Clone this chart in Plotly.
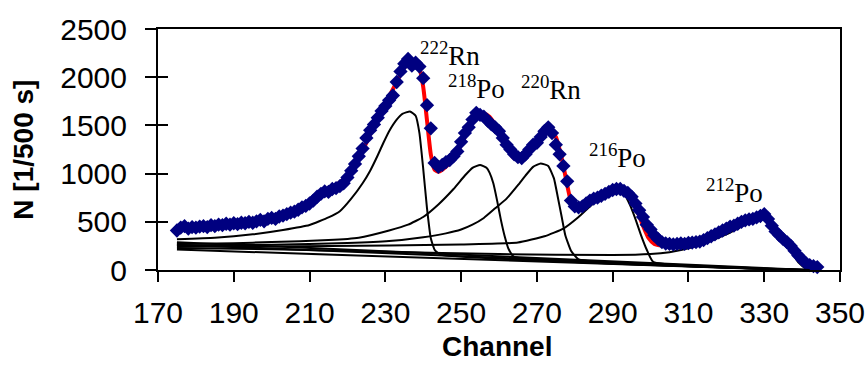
import plotly.graph_objects as go

# ---------------- data ----------------
channels = list(range(175, 345))
counts = [
    410, 440, 455, 430, 445, 440, 450, 455, 445, 465,   # 175-184
    455, 470, 465, 480, 470, 485, 475, 490, 485, 500,   # 185-194
    490, 505, 520, 505, 530, 540, 530, 555, 565, 580,   # 195-204
    595, 605, 625, 650, 665, 690, 720, 760, 790, 815,   # 205-214
    810, 840, 850, 870, 900, 960, 1030, 1100, 1180, 1260,  # 215-224
    1370, 1450, 1510, 1580, 1650, 1700, 1760, 1810, 1950, 2060,  # 225-234
    2140, 2190, 2120, 2150, 2110, 1990, 1710, 1470, 1110, 1070,  # 235-244
    1090, 1120, 1140, 1180, 1230, 1330, 1420, 1480, 1560, 1630,  # 245-254
    1610, 1590, 1550, 1510, 1480, 1440, 1370, 1300, 1250, 1200,  # 255-264
    1170, 1160, 1200, 1250, 1300, 1320, 1380, 1440, 1480, 1420,  # 265-274
    1300, 1200, 1080, 920, 720, 660, 650, 660, 690, 720,   # 275-284
    740, 750, 770, 790, 810, 830, 840, 840, 820, 800,      # 285-294
    760, 690, 620, 550, 470, 420, 360, 320, 290, 275,      # 295-304
    270, 265, 270, 275, 270, 280, 285, 290, 295, 310,      # 305-314
    330, 350, 370, 390, 410, 430, 450, 460, 480, 500,      # 315-324
    515, 525, 530, 545, 560, 580, 530, 460, 400, 360,      # 325-334
    320, 290, 250, 200, 150, 110, 70, 50, 40, 30,          # 335-344
]

fit_channels = [175, 177, 179, 181, 183, 185, 187, 189, 191, 193, 195, 197, 199, 201, 203,
                205, 207, 209, 211, 213, 215, 217, 219, 221, 223, 225, 227, 229, 231, 233,
                235, 237, 238, 239, 240, 241, 242, 243, 244, 245, 247, 249, 251, 253, 254.5,
                256, 257.5, 259, 261, 262, 263, 264, 266, 268, 270, 272, 273.5, 275, 276,
                277, 278, 279, 280, 282, 284, 286, 288, 290, 292, 293.5, 295, 296.5, 298,
                299.5, 301, 303, 306, 309, 312, 315, 318, 321, 324, 327, 329, 331, 333,
                335, 337, 339, 341, 343]
fit_counts = [420, 435, 440, 445, 450, 458, 465, 472, 480, 490, 500, 512, 528, 545, 565,
              592, 625, 665, 715, 775, 830, 880, 940, 1030, 1160, 1320, 1500, 1660, 1800, 1950,
              2100, 2150, 2140, 2090, 1900, 1550, 1200, 1040, 1020, 1040, 1110, 1220, 1380, 1540, 1610,
              1620, 1590, 1510, 1380, 1290, 1210, 1160, 1150, 1230, 1330, 1430, 1460, 1380, 1250,
              1080, 880, 710, 650, 650, 700, 750, 790, 825, 835, 810, 730, 610, 460,
              330, 270, 255, 260, 270, 290, 330, 390, 450, 505, 545, 560, 520, 430,
              330, 230, 130, 50, 15]

# fitted peak components (tail + peak, then their own linear background)
rn222_ch = [175, 185, 195, 203, 210, 215, 218, 221, 224, 226, 228, 229.5, 231, 233, 234.5,
            236.5, 238, 239, 240, 241, 242, 243, 244.5, 342]
rn222_n = [320, 335, 370, 415, 467, 545, 610, 740, 900, 1030, 1190, 1320, 1440, 1560, 1620,
           1645, 1600, 1420, 1050, 640, 330, 210, 160, 0]

po218_ch = [175, 190, 200, 215, 223, 231, 236, 240, 244, 248, 251, 253, 255, 256.7, 257.5,
            258.5, 259.5, 260.5, 261.5, 262.5, 264, 342]
po218_n = [270, 278, 290, 310, 335, 410, 470, 550, 680, 840, 980, 1060, 1090, 1060, 1010,
           900, 720, 520, 350, 220, 135, 0]

rn220_ch = [175, 200, 220, 231, 240, 246, 250, 253, 256, 259, 262, 265, 267, 269, 271,
            273, 274.5, 275.5, 276.5, 277.5, 279, 281, 342]
rn220_n = [255, 262, 280, 300, 340, 380, 420, 470, 540, 640, 740, 880, 980, 1070, 1105,
           1080, 950, 760, 560, 360, 200, 110, 0]

po216_ch = [175, 200, 231, 250, 265, 272, 277, 281, 284, 287, 289.5, 291.5, 293, 294.5,
            296, 297.5, 299, 300.7, 341]
po216_n = [245, 245, 255, 265, 285, 350, 430, 550, 660, 760, 810, 820, 790, 680,
           530, 360, 210, 85, 0]

po212_ch = [175, 200, 230, 260, 290, 300, 305, 310, 315, 320, 324, 327, 329, 331, 333,
            335, 337, 339, 341]
po212_n = [228, 215, 190, 165, 155, 165, 185, 225, 290, 370, 450, 510, 535, 520, 440,
           330, 200, 80, 10]

components = [(rn222_ch, rn222_n), (po218_ch, po218_n), (rn220_ch, rn220_n),
              (po216_ch, po216_n), (po212_ch, po212_n)]

# linear backgrounds
bg_ch = [[175, 342], [175, 340], [175, 338]]
bg_n = [[288, 0], [262, 0], [212, 0]]

# peak labels
label_isotope = ["222", "218", "220", "216", "212"]
label_element = ["Rn", "Po", "Rn", "Po", "Po"]
label_ch = [238.7, 246.1, 265.4, 283.1, 314.2]
label_n = [2044, 1701, 1691, 985, 622]

x_ticks = list(range(170, 351, 20))
y_ticks = list(range(0, 2501, 500))

# ---------------- figure ----------------
fig = go.Figure()

# red fit
fig.add_trace(go.Scatter(x=fit_channels, y=fit_counts, mode="lines",
                         line=dict(color="#FF0000", width=4, shape="spline", smoothing=0.5),
                         showlegend=False, hoverinfo="skip"))

# backgrounds (on overlay axis that carries the inner ticks)
for cx, cy in zip(bg_ch, bg_n):
    fig.add_trace(go.Scatter(x=cx, y=cy, mode="lines", yaxis="y2",
                             line=dict(color="black", width=2),
                             showlegend=False, hoverinfo="skip"))

# components
for cx, cy in components:
    fig.add_trace(go.Scatter(x=cx, y=cy, mode="lines",
                             line=dict(color="black", width=2, shape="spline", smoothing=0.4),
                             showlegend=False, hoverinfo="skip"))

# measured points
fig.add_trace(go.Scatter(x=channels, y=counts, mode="markers", cliponaxis=False,
                         marker=dict(symbol="diamond", size=11, color="#000080",
                                     line=dict(width=0)),
                         showlegend=False))

annotations = []
for iso, el, cx, cy in zip(label_isotope, label_element, label_ch, label_n):
    annotations.append(dict(x=cx, y=cy, xref="x", yref="y", xanchor="left", yanchor="bottom",
                            text=f"<sup>{iso}</sup>{el}", showarrow=False,
                            font=dict(family="Liberation Serif", size=27, color="black")))

annotations.append(dict(x=-0.197, y=0.498, xref="paper", yref="paper", textangle=-90,
                        text="<b>N [1/500 s]</b>", showarrow=False,
                        xanchor="center", yanchor="middle",
                        font=dict(family="Liberation Sans", size=28, color="black")))
annotations.append(dict(x=0.497, y=-0.3195, xref="paper", yref="paper",
                        text="<b>Channel</b>", showarrow=False,
                        xanchor="center", yanchor="middle",
                        font=dict(family="Liberation Sans", size=28, color="black")))

fig.update_layout(
    width=868, height=385,
    margin=dict(l=158, r=28, t=29, b=115, pad=0, autoexpand=False),
    paper_bgcolor="white", plot_bgcolor="white",
    showlegend=False,
    annotations=annotations,
    xaxis=dict(range=[170, 350], tickmode="array", tickvals=x_ticks, automargin=False,
               ticks="outside", ticklen=10, tickwidth=1.5, tickcolor="black",
               showline=True, linewidth=2, linecolor="black", mirror=True,
               showgrid=False, zeroline=False, ticklabelstandoff=5,
               tickfont=dict(family="Liberation Sans", size=30, color="black")),
    yaxis=dict(range=[0, 2500], tickmode="array", tickvals=y_ticks, automargin=False,
               ticks="outside", ticklen=11, tickwidth=1.5, tickcolor="black",
               showline=True, linewidth=2, linecolor="black", mirror=True,
               showgrid=False, zeroline=False, ticklabelstandoff=12,
               tickfont=dict(family="Liberation Sans", size=30, color="black")),
    yaxis2=dict(range=[0, 2500], tickmode="array", tickvals=y_ticks, overlaying="y",
                anchor="x", side="left", ticks="inside", ticklen=10, tickwidth=1.5,
                automargin=False,
                tickcolor="black", showticklabels=False, showline=False,
                showgrid=False, zeroline=False),
)

# remove the page's default 8px body margin so the 868x385 figure fills the window
fig.write_html("out.html",
               config={"displayModeBar": False},
               post_script="document.body.style.margin='0px';"
                           "document.documentElement.style.overflow='hidden';")
